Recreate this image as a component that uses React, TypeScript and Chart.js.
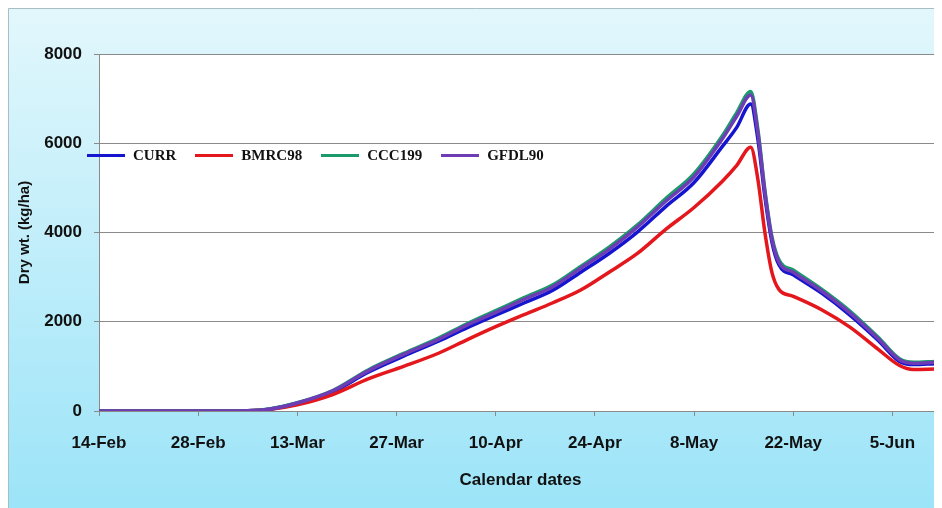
import React, { useEffect, useRef } from "react";
import { Chart, registerables } from "chart.js";

Chart.register(...registerables);

// x positions in days after 14-Feb
const tickLabels = ["14-Feb", "28-Feb", "13-Mar", "27-Mar", "10-Apr", "24-Apr", "8-May", "22-May", "5-Jun"];
const days = [0, 7, 14, 18, 21, 24, 28, 33, 38, 43, 48, 52, 56, 60, 64, 68, 72, 76, 80, 84, 88, 90, 92, 93, 94, 95, 96, 98, 102, 106, 110, 113, 115, 118];

const curr = [0, 0, 0, 0, 5, 40, 175, 430, 870, 1230, 1570, 1870, 2150, 2420, 2700, 3110, 3530, 4010, 4580, 5120, 5930, 6350, 6880, 6100, 4800, 3780, 3270, 3050, 2640, 2150, 1580, 1110, 1040, 1060];
const bmrc98 = [0, 0, 0, 0, 5, 35, 140, 370, 720, 1000, 1300, 1600, 1890, 2160, 2420, 2710, 3110, 3530, 4070, 4560, 5150, 5500, 5910, 5200, 4000, 3100, 2720, 2570, 2270, 1880, 1380, 1020, 930, 940];
const ccc199 = [0, 0, 0, 0, 5, 45, 185, 460, 920, 1290, 1640, 1960, 2250, 2540, 2820, 3240, 3670, 4170, 4760, 5320, 6170, 6680, 7160, 6320, 4950, 3900, 3380, 3160, 2730, 2240, 1650, 1170, 1090, 1110];
const gfdl90 = [0, 0, 0, 0, 5, 40, 180, 450, 900, 1270, 1610, 1930, 2210, 2500, 2780, 3200, 3620, 4120, 4700, 5250, 6100, 6600, 7080, 6250, 4900, 3850, 3330, 3110, 2690, 2200, 1620, 1150, 1070, 1090];

const seriesNames = ["CURR", "BMRC98", "CCC199", "GFDL90"];
const seriesColors = ["#1515CF", "#E3171C", "#1B9A6C", "#6E3CB4"];
const seriesValues = [curr, bmrc98, ccc199, gfdl90];
const seriesOrder = [4, 3, 2, 1];

const FONT = "'Liberation Sans', Arial, sans-serif";

const bgPlugin = {
  id: "bgPlugin",
  beforeDraw(chart: any) {
    const { ctx, width, height, chartArea } = chart;
    ctx.save();
    const g = ctx.createLinearGradient(0, 0, 0, height);
    g.addColorStop(0, "#E2F7FC");
    g.addColorStop(1, "#9CE4F8");
    ctx.fillStyle = g;
    ctx.fillRect(0, 0, width, height);
    ctx.strokeStyle = "#A9BEC4";
    ctx.lineWidth = 1;
    ctx.beginPath();
    ctx.moveTo(0.5, height);
    ctx.lineTo(0.5, 0.5);
    ctx.lineTo(width, 0.5);
    ctx.stroke();
    ctx.fillStyle = "#FFFFFF";
    ctx.fillRect(chartArea.left, chartArea.top, chartArea.right - chartArea.left, chartArea.bottom - chartArea.top);
    ctx.restore();
  },
};

export default function App() {
  const ref = useRef<HTMLCanvasElement | null>(null);

  useEffect(() => {
    document.documentElement.style.overflow = "hidden";
    document.body.style.overflow = "hidden";
    if (!ref.current) return;
    const chart = new Chart(ref.current, {
      type: "line",
      data: {
        datasets: seriesNames.map((name, i) => ({
          label: name,
          data: days.map((d, j) => ({ x: d, y: seriesValues[i][j] })),
          borderColor: seriesColors[i],
          backgroundColor: seriesColors[i],
          borderWidth: 3.5,
          pointRadius: 0,
          cubicInterpolationMode: "monotone" as const,
          fill: false,
          order: seriesOrder[i],
        })),
      },
      options: {
        responsive: false,
        animation: false,
        devicePixelRatio: 1,
        layout: { padding: { left: 8, top: 46, right: 0, bottom: 0 } },
        plugins: { legend: { display: false }, tooltip: { enabled: false } },
        scales: {
          x: {
            type: "linear",
            min: 0,
            max: 119,
            afterFit: (s: any) => {
              s.height = 97;
            },
            ticks: {
              stepSize: 14,
              includeBounds: false,
              autoSkip: false,
              maxRotation: 0,
              padding: 17,
              color: "#111",
              font: { family: FONT, size: 17, weight: "bold" },
              callback: (v: any) => tickLabels[Math.round(Number(v) / 14)] ?? "",
            },
            grid: { drawOnChartArea: false, drawTicks: true, tickLength: 5, color: "#8A8A8A" },
            border: { color: "#8A8A8A" },
            title: {
              display: true,
              text: "Calendar dates",
              color: "#111",
              font: { family: FONT, size: 17, weight: "bold" },
              padding: { top: 0, bottom: 17 },
            },
          },
          y: {
            min: 0,
            max: 8000,
            afterFit: (s: any) => {
              s.width = 83;
            },
            ticks: {
              stepSize: 2000,
              padding: 12,
              color: "#111",
              font: { family: FONT, size: 17, weight: "bold" },
              callback: (v: any) => String(v),
            },
            grid: { color: "#8A8A8A", tickLength: 5 },
            border: { color: "#8A8A8A" },
            title: {
              display: true,
              text: "Dry wt. (kg/ha)",
              color: "#111",
              font: { family: FONT, size: 15, weight: "bold" },
              padding: 0,
            },
          },
        },
      },
      plugins: [bgPlugin],
    });
    return () => chart.destroy();
  }, []);

  return (
    <div style={{ position: "relative", width: 934, height: 500 }}>
      <canvas ref={ref} width={934} height={500} style={{ display: "block" }} />
      <div
        style={{
          position: "absolute",
          left: 79,
          top: 137,
          display: "flex",
          alignItems: "center",
          fontFamily: "'Liberation Serif', 'Times New Roman', serif",
          fontWeight: "bold",
          fontSize: 15,
          color: "#111",
          lineHeight: "20px",
          whiteSpace: "nowrap",
        }}
      >
        {seriesNames.map((name, i) => (
          <div key={name} style={{ display: "flex", alignItems: "center", marginRight: 19 }}>
            <div style={{ width: 38, height: 3, background: seriesColors[i], marginRight: 8 }} />
            <span>{name}</span>
          </div>
        ))}
      </div>
    </div>
  );
}
